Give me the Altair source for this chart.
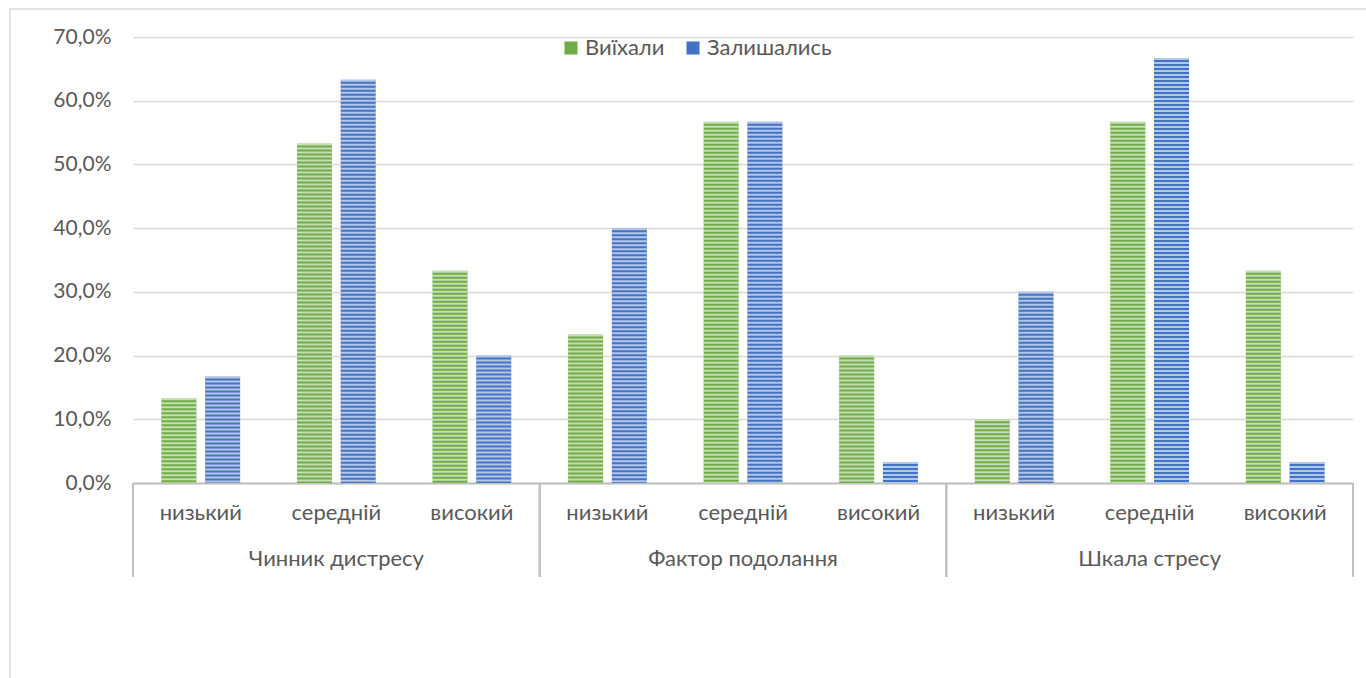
import altair as alt
import pandas as pd

# Survey scales and response levels
groups = ["Чинник дистресу", "Фактор подолання", "Шкала стресу"]
levels = ["низький", "середній", "високий"]
series = ["Виїхали", "Залишались"]

# Share of respondents (%) per scale/level, in the order of groups x levels
left_vals = [13.3, 53.3, 33.3, 23.3, 56.7, 20.0, 10.0, 56.7, 33.3]
stayed_vals = [16.7, 63.3, 20.0, 40.0, 56.7, 3.3, 30.0, 66.7, 3.3]

colors = ["#70AD47", "#4472C4"]
text_color = "#595959"
font = "Lato"

rows = []
keys = []
i = 0
for g in groups:
    for lv in levels:
        key = f"{g}|{lv}"
        keys.append(key)
        rows.append({"key": key, "group": g, "level": lv, "series": series[0], "value": left_vals[i]})
        rows.append({"key": key, "group": g, "level": lv, "series": series[1], "value": stayed_vals[i]})
        i += 1
df = pd.DataFrame(rows)

W, H = 1220, 446

x_enc = alt.X(
    "key:N",
    sort=keys,
    scale=alt.Scale(paddingInner=0, paddingOuter=0),
    axis=alt.Axis(
        title=None,
        labelExpr="split(datum.label, '|')[1]",
        labelAngle=0,
        labelFont=font,
        labelFontSize=22,
        labelColor=text_color,
        labelPadding=19,
        ticks=False,
        domainColor="#bfbfbf",
        domainWidth=2,
        grid=False,
    ),
)
xoff = alt.XOffset("series:N", sort=series, scale=alt.Scale(paddingInner=0.2, paddingOuter=0.65))
y_enc = alt.Y(
    "value:Q",
    scale=alt.Scale(domain=[0, 70]),
    axis=alt.Axis(
        title=None,
        values=[0, 10, 20, 30, 40, 50, 60, 70],
        labelExpr="replace(format(datum.value, '.1f'), '.', ',') + '%'",
        labelFont=font,
        labelFontSize=21,
        labelColor=text_color,
        labelPadding=22,
        ticks=False,
        domain=False,
        gridColor="#d9d9d9",
        gridWidth=1.3,
    ),
)

base = alt.Chart(df)

# outer chart frame
frame = alt.Chart(pd.DataFrame({"f": [0]})).mark_rect(
    fill="white", fillOpacity=0, stroke="#d9d9d9", strokeWidth=1.5
).encode(
    x=alt.value(-123), x2=alt.value(1300), y=alt.value(-28), y2=alt.value(700)
)

bars = base.mark_bar().encode(
    x=x_enc,
    xOffset=xoff,
    y=y_enc,
    color=alt.Color(
        "series:N",
        sort=series,
        scale=alt.Scale(domain=series, range=colors),
        legend=alt.Legend(
            title=None,
            orient="none",
            legendX=427,
            legendY=0,
            direction="horizontal",
            symbolType="square",
            symbolSize=170,
            symbolStrokeWidth=0,
            labelFont=font,
            labelFontSize=22,
            labelColor=text_color,
            columnPadding=17,
            labelOffset=3,
        ),
    ),
)

# light horizontal stripes over each bar
stripes = base.mark_rule(
    color="white", opacity=0.6, strokeWidth=35, strokeDash=[2, 2]
).encode(
    x=alt.X("key:N", sort=keys),
    xOffset=alt.XOffset("series:N", sort=series),
    y="value:Q",
    y2=alt.datum(0),
)

# separators between scale groups below the axis
seps_left = base.transform_filter(alt.datum.level == levels[0]).mark_rule(
    color="#bfbfbf", strokeWidth=2
).encode(
    x=alt.X("key:N", sort=keys, bandPosition=0),
    y=alt.value(H),
    y2=alt.value(H + 94),
)
seps_right = base.transform_filter(
    (alt.datum.level == levels[-1]) & (alt.datum.group == groups[-1])
).mark_rule(color="#bfbfbf", strokeWidth=2).encode(
    x=alt.X("key:N", sort=keys, bandPosition=1),
    y=alt.value(H),
    y2=alt.value(H + 94),
)

group_labels = base.transform_filter(
    (alt.datum.level == levels[1]) & (alt.datum.series == series[0])
).mark_text(font=font, fontSize=22, color=text_color, baseline="middle").encode(
    x=alt.X("key:N", sort=keys),
    y=alt.value(H + 76),
    text="group:N",
)

chart = (
    alt.layer(frame, bars, stripes, seps_left, seps_right, group_labels)
    .properties(
        width=W,
        height=H,
        autosize=alt.AutoSizeParams(type="none"),
        padding={"left": 133, "top": 37, "right": 13, "bottom": 195},
        background="white",
    )
    .configure_view(stroke=None)
)

chart.save("out.html", embed_options={"renderer": "svg", "actions": False})
